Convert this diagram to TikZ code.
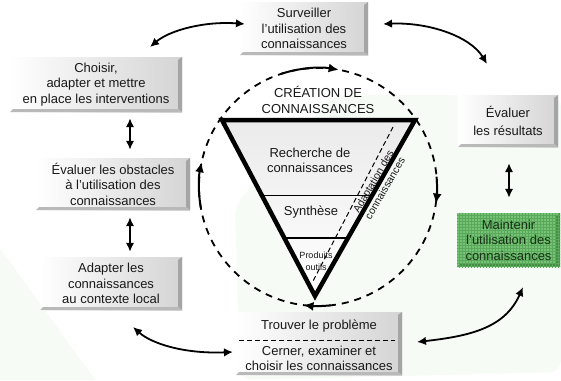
\documentclass[tikz,border=0pt]{standalone}
\usepackage{fontspec}
\setmainfont{Liberation Sans}
\usetikzlibrary{arrows.meta,patterns,calc}

\definecolor{bevel}{RGB}{165,165,165}
\definecolor{bevelb}{RGB}{185,185,185}
\definecolor{boxr}{RGB}{212,212,212}
\definecolor{gfill}{RGB}{118,194,118}
\definecolor{ggrid}{RGB}{90,168,90}
\definecolor{gbevel}{RGB}{70,140,70}
\definecolor{gtext}{RGB}{25,50,25}
\definecolor{tint}{RGB}{246,251,246}
\definecolor{txt}{RGB}{25,25,25}

\tikzset{
  bevels/.style 2 args={path picture={
    \fill[#1] ([xshift=-4pt,yshift=-3pt]path picture bounding box.north east) -- (path picture bounding box.north east)
      -- (path picture bounding box.south east) -- ([xshift=-4pt,yshift=3pt]path picture bounding box.south east) -- cycle;
    \fill[#2] ([xshift=3pt,yshift=3pt]path picture bounding box.south west) -- (path picture bounding box.south west)
      -- (path picture bounding box.south east) -- ([xshift=-4pt,yshift=3pt]path picture bounding box.south east) -- cycle;
  }},
  stepbox/.style={left color=white, right color=boxr, inner sep=0pt, align=center,
    font=\fontsize{13}{15.5}\selectfont, text=txt, bevels={bevel}{bevelb}},
  greenbox/.style={fill=gfill, inner sep=0pt, align=center,
    font=\fontsize{13}{15.5}\selectfont, text=gtext, bevels={gbevel}{gbevel},
    postaction={pattern=grid, pattern color=ggrid}},
  lbl/.style={inner sep=0pt, align=center, font=\fontsize{13}{15.5}\selectfont, text=txt},
  dbl/.style={line width=1.8pt, {Latex[length=9pt,width=8.5pt]}-{Latex[length=9pt,width=8.5pt]}},
  circarrow/.style={line width=2pt, -{Latex[length=10pt,width=9pt]}},
  dashcircle/.style={line width=1.8pt, dash pattern=on 7pt off 6pt},
  sepline/.style={line width=0.8pt, dash pattern=on 5pt off 3pt},
  innerdash/.style={line width=1pt, dash pattern=on 5pt off 3pt},
}

\begin{document}
\begin{tikzpicture}[x=1pt,y=-1pt]
\useasboundingbox (0,0) rectangle (561,380);
\fill[white] (0,0) rectangle (561,380);

% faint background tint
\fill[tint, rounded corners=12pt] (235,205) -- (335,95) -- (561,95) -- (561,372) -- (240,380) -- cycle;
\fill[tint] (0,248) -- (95,380) -- (0,380) -- cycle;

% dashed circle
\coordinate (cc) at (318,187);
\draw[dashcircle] (cc) circle[radius=119];

% triangle
\coordinate (tl) at (222,120);
\coordinate (tr) at (415,120);
\coordinate (tb) at (315,296);
\shade[top color=black!8, bottom color=white] (tl) -- (tr) -- (tb) -- cycle;
\draw[line width=1.5pt] ($(tl)!0.43!(tb)$) -- ($(tr)!0.43!(tb)$);
\draw[line width=1.5pt] ($(tl)!0.67!(tb)$) -- ($(tr)!0.67!(tb)$);
\coordinate (da) at (393,127);
\coordinate (db) at (312,283);
\draw[innerdash] (da) -- (db);
\draw[line width=4.5pt, line join=miter] (tl) -- (tr) -- (tb) -- cycle;

\node[lbl] (crea) at (318,100) {CRÉATION DE\\CONNAISSANCES};
\node[lbl] (rech) at (310,160.5) {Recherche de\\connaissances};
\node[lbl] (synth) at (311,212) {Synthèse};
\node[lbl, font=\fontsize{9}{12}\selectfont] (prod) at (316,261) {Produits\\outils};
\node[lbl, rotate=60, font=\fontsize{10.5}{13.5}\selectfont] (adapt) at (379,185) {Adaptation des\\connaissances};

% arrows on the circle
\draw[circarrow] (cc) ++(-108:119) arc[start angle=-108, end angle=-80, radius=119];
\draw[circarrow] (cc) ++(-5:119) arc[start angle=-5, end angle=8, radius=119];
\draw[circarrow] (cc) ++(84:119) arc[start angle=84, end angle=97, radius=119];
\draw[circarrow] (cc) ++(170:119) arc[start angle=170, end angle=192, radius=119];

% boxes
\node[stepbox, minimum width=128pt, minimum height=53pt] (surv) at (304,28.5) {Surveiller\\l’utilisation des\\connaissances};
\node[stepbox, minimum width=172pt, minimum height=55pt] (chois) at (96,84.5) {Choisir,\\adapter et mettre\\en place les interventions};
\node[stepbox, minimum width=154pt, minimum height=52pt] (obst) at (113,184) {Évaluer les obstacles\\à l’utilisation des\\connaissances};
\node[stepbox, minimum width=142pt, minimum height=53pt] (adapl) at (111,283.5) {Adapter les\\connaissances\\au contexte local};
\node[stepbox, minimum width=166pt, minimum height=63pt] (trouv) at (319,343.5) {};
\node[lbl] (trouvt) at (319,326) {Trouver le problème};
\node[lbl] (cerner) at (319,358.5) {Cerner, examiner et\\choisir les connaissances};
\draw[sepline] ($(trouv.west)+(3,-3.5)$) -- ($(trouv.east)+(-7,-3.5)$);
\node[stepbox, minimum width=100pt, minimum height=52pt, font=\fontsize{13}{18}\selectfont] (evalr) at (508,121) {Évaluer\\les résultats};
\node[greenbox, minimum width=103pt, minimum height=54pt] (maint) at (508.5,240) {Maintenir\\l’utilisation des\\connaissances};

% connectors
\coordinate (a1) at (150,47);
\coordinate (a2) at (245,24);
\draw[dbl] (a1) .. controls (170,30) and (205,21) .. (a2);
\coordinate (b1) at (383,24);
\coordinate (b2) at (487,64);
\draw[dbl] (b1) .. controls (428,22) and (470,36) .. (b2);
\coordinate (c1) at (133,327);
\coordinate (c2) at (233,352);
\draw[dbl] (c1) .. controls (152,344) and (185,354) .. (c2);
\coordinate (d1) at (417,342);
\coordinate (d2) at (523,287);
\draw[dbl] (d1) .. controls (470,336) and (505,328) .. (d2);

\draw[dbl] ([yshift=-6pt]chois.south -| 130,0) -- ([yshift=8pt]obst.north -| 130,0);
\draw[dbl] ([yshift=-7pt]obst.south -| 130,0) -- ([yshift=5pt]adapl.north -| 130,0);
\draw[dbl] ([yshift=-16pt]evalr.south -| 509,0) -- ([yshift=15pt]maint.north -| 509,0);
\end{tikzpicture}
\end{document}
